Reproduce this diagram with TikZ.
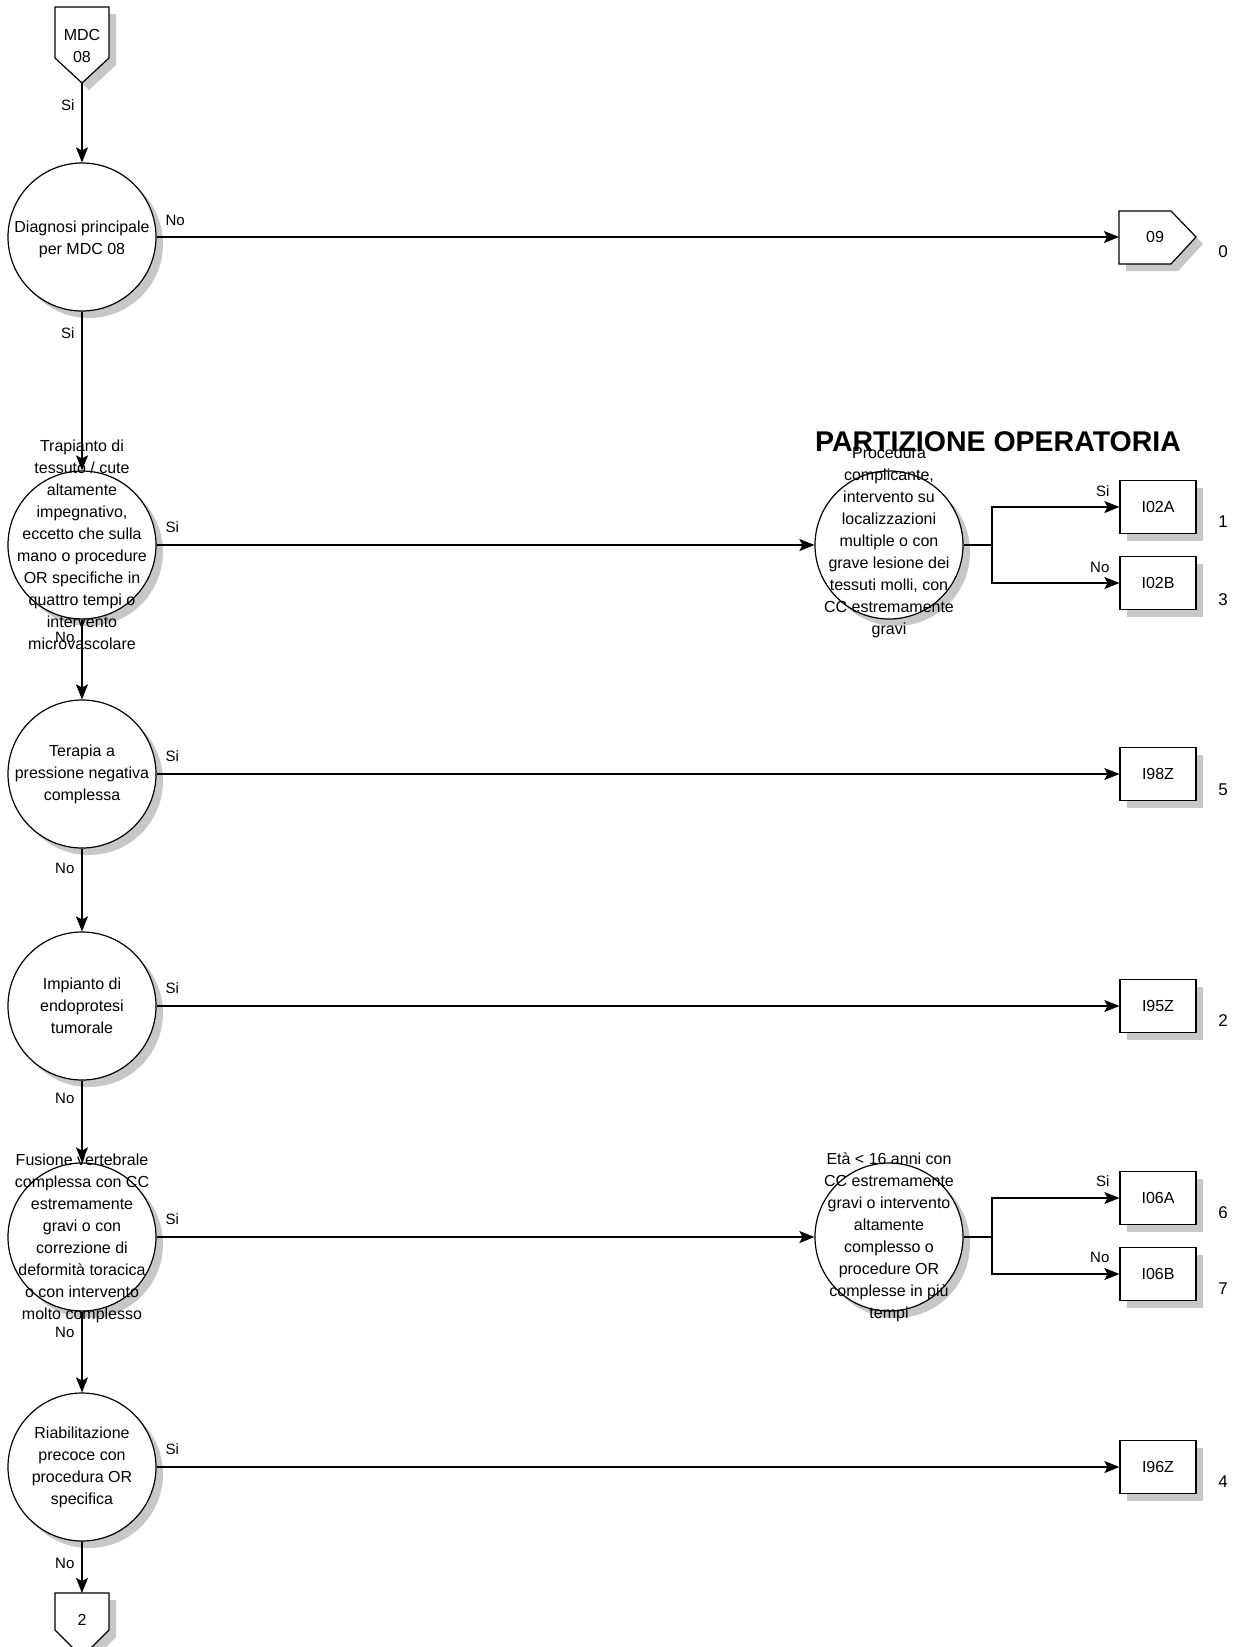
\documentclass[tikz,border=0pt]{standalone}
\usepackage{fontspec}
\setmainfont{Liberation Sans}
\usetikzlibrary{arrows.meta,shadows}

\begin{document}
\begin{tikzpicture}[x=1pt,y=-1pt,line width=1.2pt,
  dshadow/.style = {drop shadow={shadow xshift=7pt,shadow yshift=-7pt,
                                 fill=black!22,opacity=1}},
  cond/.style = {shape=circle, draw, fill=white, dshadow,
                 minimum size=148pt, inner sep=0pt},
  ctext/.style = {align=center, inner sep=0pt,
                  font=\fontsize{16}{22}\selectfont},
  drg/.style = {shape=rectangle, draw, fill=white, dshadow,
                minimum width=76pt, minimum height=53pt,
                font=\fontsize{16}{20}\selectfont},
  offpage/.style = {draw, fill=white, dshadow},
  lab/.style = {inner sep=0pt, font=\fontsize{15}{18}\selectfont},
  num/.style = {inner sep=0pt, font=\fontsize{17}{20}\selectfont},
  arr/.style = {-{Stealth[length=15pt,width=12pt,inset=3pt]}}]

  \useasboundingbox (0,0) rectangle (1239,1647);

  % ingresso MDC 08
  \draw[offpage] (55,7) -- (109,7) -- (109,58) -- (82,83) -- (55,58) -- cycle;
  \node[ctext] (mdc) at (82,46) {MDC\\08};
  \coordinate (mdcout) at (82,83);

  % uscita 09
  \draw[offpage] (1119,211) -- (1171,211) -- (1196,237) -- (1171,264) -- (1119,264) -- cycle;
  \node[ctext] (n09) at (1155,237) {09};
  \coordinate (out09) at (1119,237);

  % uscita 2
  \draw[offpage] (55,1593) -- (109,1593) -- (109,1630) -- (82,1657) -- (55,1630) -- cycle;
  \node[ctext] (n2) at (82,1620) {2};
  \coordinate (out2) at (82,1593);

  \node[font=\bfseries\fontsize{28.5}{32}\selectfont, inner sep=0pt] (part) at (998,442) {PARTIZIONE OPERATORIA};

  % decisioni
  \node[cond] (d1) at (82,237) {};
  \node[ctext] (d1t) at (82,239) {Diagnosi principale\\per MDC 08};
  \node[cond] (d2) at (82,545) {};
  \node[ctext] (d2t) at (82,545) {Trapianto di\\tessuto / cute\\altamente\\impegnativo,\\eccetto che sulla\\mano o procedure\\OR specifiche in\\quattro tempi o\\intervento\\microvascolare};
  \node[cond] (d3) at (82,774) {};
  \node[ctext] (d3t) at (82,774) {Terapia a\\pressione negativa\\complessa};
  \node[cond] (d4) at (82,1006) {};
  \node[ctext] (d4t) at (82,1006) {Impianto di\\endoprotesi\\tumorale};
  \node[cond] (d5) at (82,1237) {};
  \node[ctext] (d5t) at (82,1238) {Fusione vertebrale\\complessa con CC\\estremamente\\gravi o con\\correzione di\\deformità toracica\\o con intervento\\molto complesso};
  \node[cond] (d6) at (82,1467) {};
  \node[ctext] (d6t) at (82,1467) {Riabilitazione\\precoce con\\procedura OR\\specifica};

  \node[cond] (r1) at (889,545) {};
  \node[ctext] (r1t) at (889,542) {Procedura\\complicante,\\intervento su\\localizzazioni\\multiple o con\\grave lesione dei\\tessuti molli, con\\CC estremamente\\gravi};
  \node[cond] (r2) at (889,1237) {};
  \node[ctext] (r2t) at (889,1237) {Età < 16 anni con\\CC estremamente\\gravi o intervento\\altamente\\complesso o\\procedure OR\\complesse in più\\tempi};

  % DRG
  \node[drg] (i02a) at (1158,507) {I02A};
  \node[drg] (i02b) at (1158,583) {I02B};
  \node[drg] (i98z) at (1158,774) {I98Z};
  \node[drg] (i95z) at (1158,1006) {I95Z};
  \node[drg] (i06a) at (1158,1198) {I06A};
  \node[drg] (i06b) at (1158,1274) {I06B};
  \node[drg] (i96z) at (1158,1467) {I96Z};

  \coordinate (b1) at (992,545);
  \coordinate (b2) at (992,1237);

  % collegamenti
  \draw[arr] (mdcout) -- (d1);
  \draw[arr] (d1) -- (d2);
  \draw[arr] (d2) -- (d3);
  \draw[arr] (d3) -- (d4);
  \draw[arr] (d4) -- (d5);
  \draw[arr] (d5) -- (d6);
  \draw[arr] (d6) -- (out2);
  \draw[arr] (d1) -- (out09);
  \draw[arr] (d2) -- (r1);
  \draw[arr] (d3) -- (i98z);
  \draw[arr] (d4) -- (i95z);
  \draw[arr] (d5) -- (r2);
  \draw[arr] (d6) -- (i96z);
  \draw (r1) -- (b1);
  \draw[arr] (b1) |- (i02a);
  \draw[arr] (b1) |- (i02b);
  \draw (r2) -- (b2);
  \draw[arr] (b2) |- (i06a);
  \draw[arr] (b2) |- (i06b);

  % etichette
  \node[lab, anchor=east] (s0) at (75,105) {Si};
  \node[lab, anchor=east] (s1) at (75,333) {Si};
  \node[lab, anchor=east] (s2) at (75,637) {No};
  \node[lab, anchor=east] (s3) at (75,868) {No};
  \node[lab, anchor=east] (s4) at (75,1098) {No};
  \node[lab, anchor=east] (s5) at (75,1332) {No};
  \node[lab, anchor=east] (s6) at (75,1563) {No};

  \node[lab, anchor=west] (e1) at (165,220) {No};
  \node[lab, anchor=west] (e2) at (165,527) {Si};
  \node[lab, anchor=west] (e3) at (165,756) {Si};
  \node[lab, anchor=west] (e4) at (165,988) {Si};
  \node[lab, anchor=west] (e5) at (165,1219) {Si};
  \node[lab, anchor=west] (e6) at (165,1449) {Si};

  \node[lab, anchor=east] (f1) at (1110,491) {Si};
  \node[lab, anchor=east] (f2) at (1110,567) {No};
  \node[lab, anchor=east] (f3) at (1110,1181) {Si};
  \node[lab, anchor=east] (f4) at (1110,1257) {No};

  \node[num] (k0) at (1223,252) {0};
  \node[num] (k1) at (1223,522) {1};
  \node[num] (k3) at (1223,600) {3};
  \node[num] (k5) at (1223,790) {5};
  \node[num] (k2) at (1223,1021) {2};
  \node[num] (k6) at (1223,1213) {6};
  \node[num] (k7) at (1223,1289) {7};
  \node[num] (k4) at (1223,1482) {4};
\end{tikzpicture}
\end{document}
